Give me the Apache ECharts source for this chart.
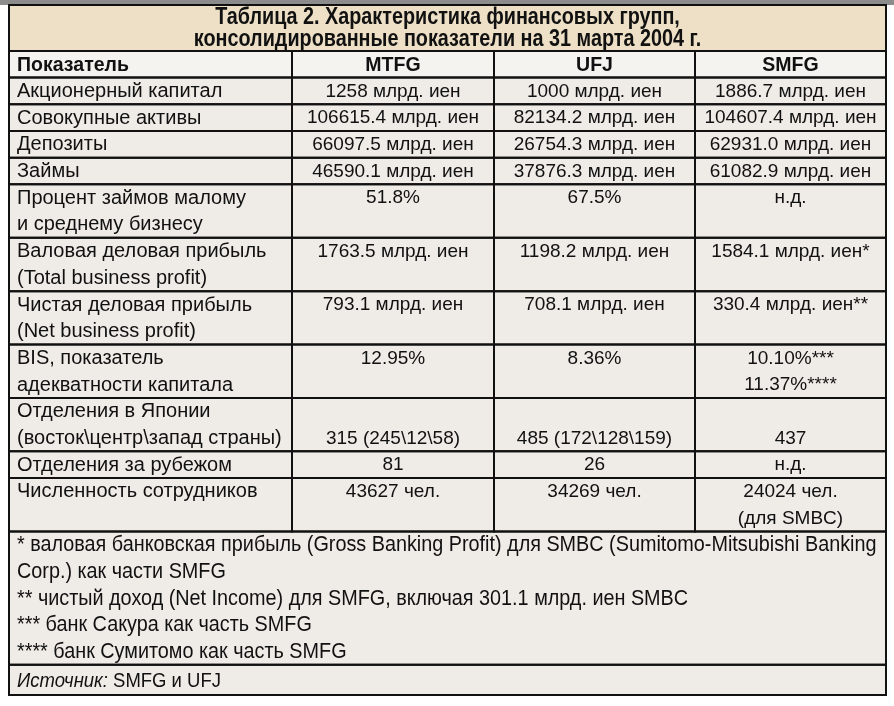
<!DOCTYPE html>
<html><head><meta charset="utf-8">
<script src="https://cdn.jsdelivr.net/npm/echarts@6/dist/echarts.min.js"></script>
<style>html,body{margin:0;padding:0;background:#fff}#c{width:894px;height:706px}</style>
</head><body><div id="c"></div>
<script>
// ---------- data ----------
const titleLines = ['Таблица 2. Характеристика финансовых групп,', 'консолидированные показатели на 31 марта 2004 г.'];
const columns = ['Показатель', 'MTFG', 'UFJ', 'SMFG'];
const indicators = [
  'Акционерный капитал',
  'Совокупные активы',
  'Депозиты',
  'Займы',
  'Процент займов малому\nи среднему бизнесу',
  'Валовая деловая прибыль\n(Total business profit)',
  'Чистая деловая прибыль\n(Net business profit)',
  'BIS, показатель\nадекватности капитала',
  'Отделения в Японии\n(восток\\центр\\запад страны)',
  'Отделения за рубежом',
  'Численность сотрудников'
];
const mtfg = ['1258 млрд. иен', '106615.4 млрд. иен', '66097.5 млрд. иен', '46590.1 млрд. иен', '51.8%', '1763.5 млрд. иен', '793.1 млрд. иен', '12.95%', '\n315 (245\\12\\58)', '81', '43627 чел.'];
const ufj = ['1000 млрд. иен', '82134.2 млрд. иен', '26754.3 млрд. иен', '37876.3 млрд. иен', '67.5%', '1198.2 млрд. иен', '708.1 млрд. иен', '8.36%', '\n485 (172\\128\\159)', '26', '34269 чел.'];
const smfg = ['1886.7 млрд. иен', '104607.4 млрд. иен', '62931.0 млрд. иен', '61082.9 млрд. иен', 'н.д.', '1584.1 млрд. иен*', '330.4 млрд. иен**', '10.10%***\n11.37%****', '\n437', 'н.д.', '24024 чел.\n(для SMBC)'];
const footnotes = [
  '* валовая банковская прибыль (Gross Banking Profit) для SMBC (Sumitomo-Mitsubishi Banking',
  'Corp.) как части SMFG',
  '** чистый доход (Net Income) для SMFG, включая 301.1 млрд. иен SMBC',
  '*** банк Сакура как часть SMFG',
  '**** банк Сумитомо как часть SMFG'
];
const sourceLabel = 'Источник:';
const sourceText = ' SMFG и UFJ';

// ---------- layout (not data) ----------
const colEdges = [0, 283, 485, 686, 877];
const TITLE_H = 1.72, SOURCE_H = 1.13;
const BG = '#efece7', BG_HEAD = '#f5f3ef', BG_TITLE = '#eee0c6';
const FF = '"Liberation Sans", Arial, sans-serif';

// ---------- build cells ----------
const cells = [];
const nLines = s => s.split('\n').length;
cells.push({c0: 0, c1: 4, y0: -TITLE_H, y1: 0, text: titleLines.join('\n'), align: 'center', kind: 'title', bg: BG_TITLE});
let y = 0;
columns.forEach((t, i) => cells.push({c0: i, c1: i + 1, y0: 0, y1: 1, text: t, align: i ? 'center' : 'left', kind: 'head', bg: BG_HEAD}));
y = 1;
indicators.forEach((ind, r) => {
  const vals = [ind, mtfg[r], ufj[r], smfg[r]];
  const h = Math.max(...vals.map(nLines));
  vals.forEach((t, i) => cells.push({c0: i, c1: i + 1, y0: y, y1: y + h, text: t, align: i ? 'center' : 'left', kind: i ? 'value' : 'body', bg: BG}));
  y += h;
});
cells.push({c0: 0, c1: 4, y0: y, y1: y + footnotes.length, text: footnotes.join('\n'), align: 'left', kind: 'foot', bg: BG});
y += footnotes.length;
cells.push({c0: 0, c1: 4, y0: y, y1: y + SOURCE_H, text: '{i|' + sourceLabel + '}' + sourceText, align: 'left', kind: 'source', bg: BG});
const yMax = y + SOURCE_H;

const styleByKind = {
  title: {font: 'bold 23px ' + FF, sx: 0.86, lh: 22, it: 23},
  head: {font: 'bold 21px ' + FF, sx: 0.93, it: 21},
  body: {font: '20px ' + FF, sx: 1, it: 20},
  value: {font: '19px ' + FF, sx: 1, it: 19},
  foot: {font: '22px ' + FF, sx: 0.9, it: 22},
  source: {font: '21px ' + FF, sx: 0.88, it: 21}
};

function renderFill(params, api) {
  const c = cells[params.dataIndex];
  const p0 = api.coord([colEdges[c.c0], c.y0]);
  const p1 = api.coord([colEdges[c.c1], c.y1]);
  const lh = api.size([0, 1])[1];
  const st = styleByKind[c.kind];
  const left = c.align === 'left';
  const tx = left ? p0[0] + 8 : (p0[0] + p1[0]) / 2;
  let ty, va, lineH;
  if (c.kind === 'title' || c.kind === 'source') {
    ty = (p0[1] + p1[1]) / 2 + 1; va = 'middle'; lineH = st.lh || lh;
  } else {
    ty = p0[1] + 0.5; va = 'top'; lineH = lh;
  }
  return {
    type: 'group',
    children: [
      {type: 'rect', shape: {x: p0[0], y: p0[1], width: p1[0] - p0[0], height: p1[1] - p0[1]}, style: {fill: c.bg}},
      {type: 'text', x: tx, y: ty, scaleX: st.sx, style: {
        text: c.text, x: 0, y: 0, align: left ? 'left' : 'center', verticalAlign: va,
        font: st.font, lineHeight: lineH, fill: '#111',
        rich: {i: {font: 'italic ' + st.it + 'px ' + FF, fill: '#111', lineHeight: lineH}}
      }}
    ]
  };
}
function renderBorder(params, api) {
  const c = cells[params.dataIndex];
  const p0 = api.coord([colEdges[c.c0], c.y0]);
  const p1 = api.coord([colEdges[c.c1], c.y1]);
  return {type: 'rect', shape: {x: p0[0], y: p0[1], width: p1[0] - p0[0], height: p1[1] - p0[1]},
    style: {fill: 'none', stroke: '#111', lineWidth: 2}};
}
const data = cells.map(c => [colEdges[c.c0], c.y0]);

const chart = echarts.init(document.getElementById('c'), null, {renderer: 'canvas'});
chart.setOption({
  animation: false,
  backgroundColor: '#fff',
  graphic: [{type: 'rect', left: 0, top: 0, shape: {width: 894, height: 5}, style: {fill: '#8c8c8c'}}],
  grid: {left: 9, right: 8, top: 5, bottom: 11},
  xAxis: {type: 'value', min: 0, max: colEdges[4], show: false},
  yAxis: {type: 'value', min: -TITLE_H, max: yMax, inverse: true, show: false},
  series: [
    {type: 'custom', renderItem: renderFill, data: data, z: 2, silent: true, clip: false},
    {type: 'custom', renderItem: renderBorder, data: data, z: 3, silent: true, clip: false}
  ]
});
</script></body></html>
